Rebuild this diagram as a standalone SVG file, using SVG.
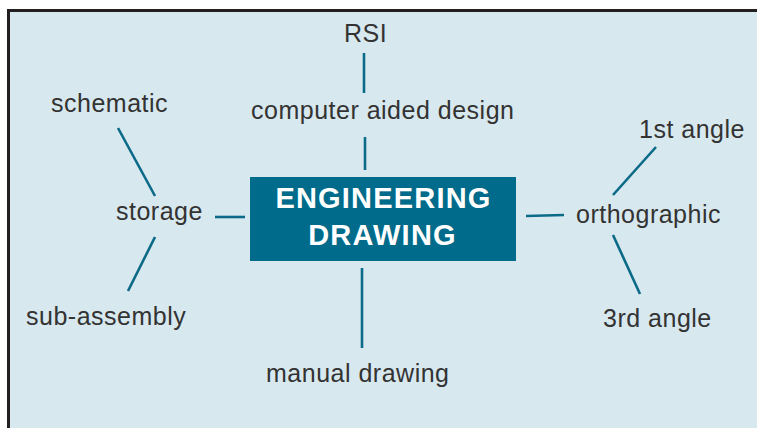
<svg xmlns="http://www.w3.org/2000/svg" width="757" height="428" viewBox="0 0 757 428">
<style>
.bg{fill:#d8e8ef}
.frame{fill:none;stroke:#231f20;stroke-width:3}
.lbl{font-family:"Liberation Sans",Arial,sans-serif;font-size:25px;letter-spacing:0.5px;fill:#333333}
.main{font-family:"Liberation Sans",Arial,sans-serif;font-size:29px;font-weight:bold;letter-spacing:1.2px;fill:#ffffff;text-anchor:middle}
.conn line{stroke:#0b6a88;stroke-width:2.6;stroke-linecap:butt}
</style>
<rect class="bg" x="0" y="0" width="757" height="428"/>
<rect x="0" y="0" width="757" height="9" fill="#ffffff"/>
<rect x="0" y="0" width="7" height="428" fill="#ffffff"/>
<polyline class="frame" points="8.5,428 8.5,10.5 757,10.5"/>
<g id="connectors" class="conn">
<line x1="364" y1="53" x2="364" y2="93"/>
<line x1="365" y1="137" x2="365" y2="170"/>
<line x1="362" y1="268" x2="362" y2="348"/>
<line x1="118" y1="128" x2="155" y2="196"/>
<line x1="215" y1="217" x2="245" y2="217"/>
<line x1="155" y1="237" x2="128" y2="291"/>
<line x1="526" y1="216" x2="564" y2="215"/>
<line x1="613" y1="195" x2="656" y2="147"/>
<line x1="613" y1="235" x2="640" y2="294"/>
</g>
<g id="center">
<rect x="250" y="177" width="266" height="84" fill="#006b8a"/>
<text class="main" x="383.5" y="208">ENGINEERING</text>
<text class="main" x="382.5" y="245">DRAWING</text>
</g>
<g id="rsi"><text class="lbl" x="344" y="42">RSI</text></g>
<g id="cad"><text class="lbl" x="251" y="119">computer aided design</text></g>
<g id="schematic"><text class="lbl" x="51" y="112">schematic</text></g>
<g id="storage"><text class="lbl" x="116" y="220">storage</text></g>
<g id="subassembly"><text class="lbl" x="26" y="325">sub-assembly</text></g>
<g id="manual"><text class="lbl" x="266" y="382">manual drawing</text></g>
<g id="orthographic"><text class="lbl" x="576" y="223">orthographic</text></g>
<g id="first"><text class="lbl" x="639" y="138">1st angle</text></g>
<g id="third"><text class="lbl" x="603" y="327">3rd angle</text></g>
</svg>
